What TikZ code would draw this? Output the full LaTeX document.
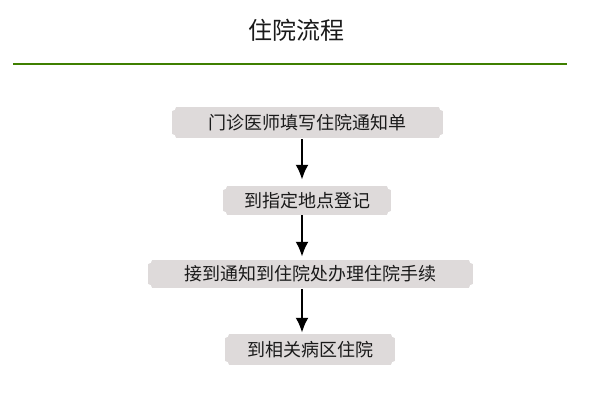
\documentclass[tikz,border=0pt]{standalone}
\usepackage{fontspec}
\newfontfamily\cjk{Noto Sans CJK SC}
\usepackage{tikz}
\usetikzlibrary{positioning}
\usetikzlibrary{arrows.meta}
\usepackage{xcolor}
\definecolor{boxgray}{HTML}{DEDADA}
\definecolor{rulegreen}{HTML}{3F7F00}
\definecolor{txtgray}{HTML}{1A1A1A}

\tikzset{
    stepbox/.style={fill=boxgray, inner sep=0pt, text=txtgray,
        font=\cjk\fontsize{18pt}{20pt}\selectfont,
        path picture={
            \fill[white] (path picture bounding box.north west) circle (4pt);
            \fill[white] (path picture bounding box.north east) circle (4pt);
            \fill[white] (path picture bounding box.south west) circle (4pt);
            \fill[white] (path picture bounding box.south east) circle (4pt);
        }},
    flow/.style={line width=2.5pt, -{Latex[length=15pt,width=13pt]}}
}

\begin{document}
\begin{tikzpicture}[x=1pt, y=-1pt]
        \useasboundingbox (0,0) rectangle (602,420);
        \node[font=\cjk\fontsize{24pt}{26pt}\selectfont, text=txtgray] (title) at (296,30){住院流程};
        \draw[rulegreen, line width=1.5pt] (13,64) -- (567,64);
        %boxes
        \coordinate (axis) at (302,0);
        \node[stepbox, minimum width=271pt, minimum height=31pt] (1) at (307.5,122.5){门诊医师填写住院通知单};
        \node[stepbox, minimum width=168pt, minimum height=29pt] (2) at (307,200.5){到指定地点登记};
        \node[stepbox, minimum width=325pt, minimum height=28pt] (3) at (310.5,274){接到通知到住院处办理住院手续};
        \node[stepbox, minimum width=170pt, minimum height=31pt] (4) at (310,349.5){到相关病区住院};
        %array
        \draw[flow, shorten <=1pt, shorten >=6pt] (1.south -| axis) -- (2.north -| axis);
        \draw[flow, shorten >=3pt] (2.south -| axis) -- (3.north -| axis);
        \draw[flow, shorten <=1pt, shorten >=1pt] (3.south -| axis) -- (4.north -| axis);
    \end{tikzpicture}
\end{document}
